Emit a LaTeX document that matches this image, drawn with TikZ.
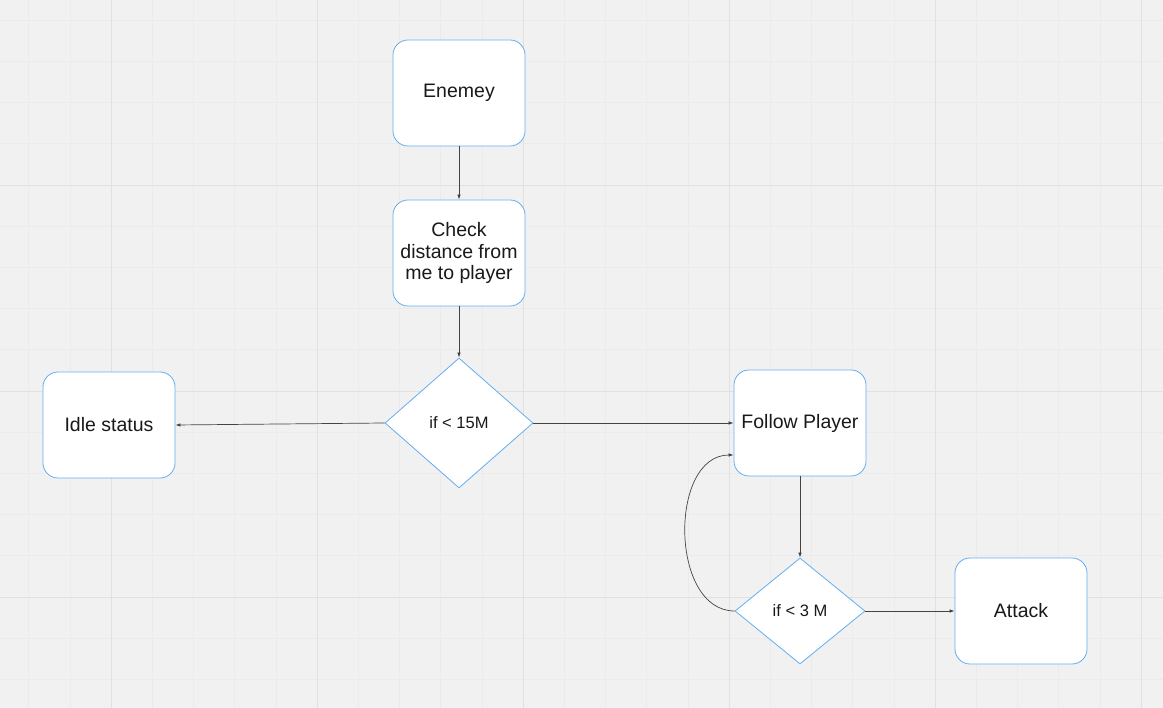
\documentclass[tikz,border=0pt]{standalone}
\usepackage{fontspec}
\setmainfont{Liberation Sans}
\usetikzlibrary{shapes.geometric,arrows.meta,calc}
\definecolor{canvas}{HTML}{F1F1F1}
\definecolor{gridminor}{HTML}{EBEBEB}
\definecolor{gridmajor}{HTML}{E1E1E1}
\definecolor{accent}{HTML}{62AEF0}
\definecolor{wire}{HTML}{444444}
\tikzset{
    box/.style={draw=accent, fill=white, line width=0.8pt, rounded corners=15pt,
        minimum width=132pt, minimum height=106pt, align=center,
        font=\fontsize{19.5}{21.7}\selectfont, text=black!90},
    test/.style={draw=accent, fill=white, line width=0.8pt, diamond, inner sep=0pt,
        font=\fontsize{16.5}{18}\selectfont, text=black!90},
    wire/.style={draw=wire, line width=0.7pt, -{Latex[length=5pt,width=3.5pt]}}
}

\begin{document}
\begin{tikzpicture}[x=1pt, y=-1pt]
    \fill [canvas] (0,0) rectangle (1163,708);
    \useasboundingbox (0,0) rectangle (1163,708);
    \foreach \i in {0,...,27} \draw [gridminor, line width=0.6pt] ({28.6+41.2*\i},0) -- ++(0,708);
    \foreach \i in {0,...,17} \draw [gridminor, line width=0.6pt] (0,{20.2+41.2*\i}) -- ++(1163,0);
    \foreach \i in {0,...,5} \draw [gridmajor, line width=0.8pt] ({111+206*\i},0) -- ++(0,708);
    \foreach \i in {0,...,2} \draw [gridmajor, line width=0.8pt] (0,{185+206*\i}) -- ++(1163,0);

    \node [box] (enemy) at (459,93) {Enemey};
    \node [box] (check) at (459,253) {Check\\distance from\\me to player};
    \node [test, minimum width=148pt, minimum height=130pt] (far) at (459,423) {if < 15M};
    \node [box] (idle) at (109,425) {Idle status};
    \node [box] (follow) at (800,423) {Follow Player};
    \node [test, minimum width=130pt, minimum height=106pt] (near) at (800,611) {if < 3 M};
    \node [box] (attack) at (1021,611) {Attack};
    \coordinate (back) at ($(follow.west)+(0,32)$);

    \draw [wire] (enemy) -- (check);
    \draw [wire] (check) -- (far);
    \draw [wire] (far.west) -- (idle.east);
    \draw [wire] (far.east) -- (follow.west);
    \draw [wire] (follow) -- (near);
    \draw [wire] (near.east) -- (attack.west);
    \draw [wire] (near.west) .. controls +(-65,0) and +(-65,0) .. (back);
\end{tikzpicture}
\end{document}
